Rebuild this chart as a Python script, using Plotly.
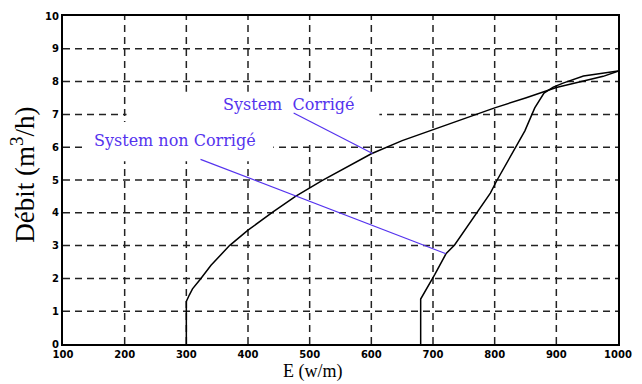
import plotly.graph_objects as go

# Data
corr_x = [300, 300, 305, 310, 323, 340, 370, 400, 440, 477, 520, 560, 600, 650, 703, 750, 800, 850, 900, 944, 976, 1000]
corr_y = [0, 1.3, 1.5, 1.68, 1.98, 2.4, 3.0, 3.47, 4.02, 4.5, 4.98, 5.4, 5.8, 6.2, 6.55, 6.87, 7.2, 7.5, 7.82, 8.02, 8.16, 8.32]

ncorr_x = [680, 680, 703, 721, 735, 769, 793, 804, 828, 849, 865, 880, 895, 912, 944, 976, 1000]
ncorr_y = [0, 1.37, 2.12, 2.75, 3.02, 3.95, 4.6, 5.0, 5.8, 6.5, 7.2, 7.65, 7.83, 7.96, 8.17, 8.26, 8.32]

x_ticks = [100, 200, 300, 400, 500, 600, 700, 800, 900, 1000]
y_ticks = [0, 1, 2, 3, 4, 5, 6, 7, 8, 9, 10]

label_corr = "System\u00a0\u00a0Corrigé"
label_ncorr = "System non Corrigé"
# pointer lines (data coordinates): text end -> curve
ptr_corr_x = [474, 602]
ptr_corr_y = [7.04, 5.81]
ptr_ncorr_x = [323, 721]
ptr_ncorr_y = [5.63, 2.75]
label_corr_pos = (466, 7.31)
label_ncorr_pos = (281, 6.2)

BLUE = "#5533ee"
X_MIN, X_MAX, Y_MIN, Y_MAX = 100, 1000, 0, 10

fig = go.Figure()

# dashed grid (drawn as shapes so the label boxes can mask it)
for v in x_ticks[1:-1]:
    fig.add_shape(type="line", xref="x", yref="y", x0=v, x1=v, y0=Y_MIN, y1=Y_MAX,
                  line=dict(color="#222222", width=1.5, dash="7px,5px"), layer="below")
for v in y_ticks[1:-1]:
    fig.add_shape(type="line", xref="x", yref="y", x0=X_MIN, x1=X_MAX, y0=v, y1=v,
                  line=dict(color="#222222", width=1.5, dash="7px,5px"), layer="below")
# white label boxes that interrupt the grid
for x0, x1, y0, y1 in [(203, 613, 6.2, 7.69), (135, 441, 5.57, 6.77)]:
    fig.add_shape(type="rect", xref="x", yref="y", x0=x0, x1=x1, y0=y0, y1=y1,
                  fillcolor="white", line=dict(width=0), layer="below")

fig.add_trace(go.Scatter(x=corr_x, y=corr_y, mode="lines",
                         line=dict(color="black", width=1.5), showlegend=False))
fig.add_trace(go.Scatter(x=ncorr_x, y=ncorr_y, mode="lines",
                         line=dict(color="black", width=1.5), showlegend=False))
fig.add_trace(go.Scatter(x=ptr_corr_x, y=ptr_corr_y, mode="lines",
                         line=dict(color=BLUE, width=1.2), showlegend=False))
fig.add_trace(go.Scatter(x=ptr_ncorr_x, y=ptr_ncorr_y, mode="lines",
                         line=dict(color=BLUE, width=1.2), showlegend=False))

fig.add_annotation(x=label_corr_pos[0], y=label_corr_pos[1], xref="x", yref="y",
                   text=label_corr, showarrow=False,
                   font=dict(family="DejaVu Serif", size=16, color=BLUE))
fig.add_annotation(x=label_ncorr_pos[0], y=label_ncorr_pos[1], xref="x", yref="y",
                   text=label_ncorr, showarrow=False,
                   font=dict(family="DejaVu Serif", size=16, color=BLUE))

fig.add_annotation(x=-0.0726, y=0.515, xref="paper", yref="paper",
                   xanchor="center", yanchor="middle",
                   text="Débit (m<sup>3</sup>/h)", textangle=-90, showarrow=False,
                   font=dict(family="Liberation Serif", size=27, color="black"))
fig.add_annotation(x=0.4496, y=-0.0838, xref="paper", yref="paper",
                   xanchor="center", yanchor="middle",
                   text="E (w/m)", showarrow=False,
                   font=dict(family="Liberation Serif", size=18, color="black"))

axis = dict(showgrid=False,
            showline=True, linecolor="black", linewidth=2, mirror=True,
            ticks="", zeroline=False,
            tickfont=dict(family="DejaVu Sans", size=10, color="black", weight="bold"))

fig.update_layout(
    width=642, height=384,
    margin=dict(l=63, r=14, t=10, b=40),
    paper_bgcolor="white", plot_bgcolor="white",
    xaxis=dict(range=[X_MIN, X_MAX], tickvals=x_ticks,
               ticktext=[str(v) for v in x_ticks], **axis),
    yaxis=dict(range=[Y_MIN, Y_MAX], tickvals=y_ticks,
               ticktext=[str(v) for v in y_ticks], **axis),
)

fig.write_html("out.html")
